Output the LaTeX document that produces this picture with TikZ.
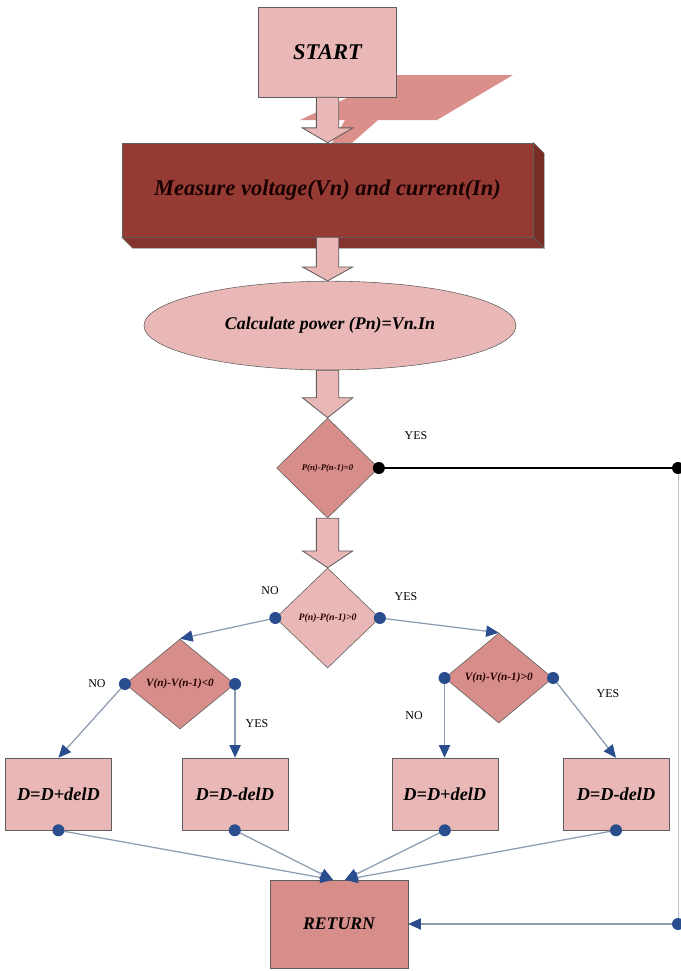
\documentclass[tikz,border=0pt]{standalone}
\usepackage{fontspec}
\setmainfont{Liberation Serif}
\usetikzlibrary{shapes.geometric,arrows.meta,positioning,calc}
\definecolor{lightpink}{HTML}{E9B8B6}
\definecolor{darkpink}{HTML}{D78E8A}
\definecolor{brick}{HTML}{953B33}
\definecolor{brickside}{HTML}{7A2D27}
\definecolor{brickfloor}{HTML}{86332D}
\definecolor{shadowpink}{HTML}{DA8F8B}
\definecolor{portblue}{HTML}{2A4E8D}
\definecolor{wireblue}{HTML}{8C9CB1}
\definecolor{edgegrey}{HTML}{5E5E5E}
\tikzstyle{stepbox} = [draw=edgegrey, fill=lightpink, shape=rectangle, minimum width=2.65cm, minimum height=1.8cm, font=\fontsize{13}{15}\selectfont\bfseries\itshape]
\tikzstyle{decision} = [draw=edgegrey, shape=diamond, inner sep=0pt, text=black!85!red, font=\bfseries\itshape]
\tikzstyle{port} = [circle, fill=portblue, inner sep=0pt, minimum size=0.3cm]
\tikzstyle{blackport} = [circle, fill=black, inner sep=0pt, minimum size=0.3cm]
\tikzstyle{wire} = [wireblue, line width=0.9pt, -{Triangle[length=9pt,width=8pt,color=portblue]}]
\tikzstyle{fatarrow} = [draw=edgegrey, fill=lightpink, line width=0.6pt]
\tikzstyle{answer} = [font=\fontsize{8.5}{10}\selectfont]
% fat arrow: from #1 down to tip #2, head length #3
\newcommand{\blockarrow}[3]{%
  \draw[fatarrow] ($(#1)+(-0.28,0)$) -- ($(#2)+(-0.28,#3)$) -- ($(#2)+(-0.63,#3)$) -- (#2)
    -- ($(#2)+(0.63,#3)$) -- ($(#2)+(0.28,#3)$) -- ($(#1)+(0.28,0)$) -- cycle;}

\begin{document}
\begin{tikzpicture}
            \useasboundingbox (0,0) rectangle (17,-24.275);
            %%%%% Start %%%%%
            \fill[shadowpink] (7.5,-3) -- (10.925,-3) -- (12.825,-1.875) -- (9.9,-1.875) -- cycle;
            \fill[shadowpink] (8.3,-3.575) -- (8.8,-3.575) -- (9.45,-3) -- (8.625,-3) -- cycle;
            \node (start) [draw=edgegrey, fill=lightpink, minimum width=3.45cm, minimum height=2.25cm, font=\fontsize{16}{18}\selectfont\bfseries\itshape] at (8.19,-1.3) {START};
            %%%%% Measure %%%%%
            \node (meas) [minimum width=10.275cm, minimum height=2.35cm] at (8.19,-4.75) {};
            \filldraw[brickfloor, draw=edgegrey, line width=0.4pt] (meas.south west) -- ($(meas.south west)+(0.27,-0.27)$) -- ($(meas.south east)+(0.27,-0.27)$) -- (meas.south east) -- cycle;
            \filldraw[brickside, draw=edgegrey, line width=0.4pt] (meas.north east) -- ($(meas.north east)+(0.27,-0.27)$) -- ($(meas.south east)+(0.27,-0.27)$) -- (meas.south east) -- cycle;
            \node (measface) [draw=edgegrey, fill=brick, minimum width=10.275cm, minimum height=2.35cm, text=black!90!red, font=\fontsize{16}{18}\selectfont\bfseries\itshape] at (meas) {Measure voltage(Vn) and current(In)};
            \blockarrow{start.south}{meas.north}{0.37}
            %%%%% Power %%%%%
            \node (ell) [ellipse, draw=edgegrey, fill=lightpink, minimum width=9.3cm, minimum height=2.22cm, font=\fontsize{12.7}{14}\selectfont\bfseries\itshape] at (8.25,-8.14) {Calculate power (Pn)=Vn.In};
            \blockarrow{meas.south}{ell.north -| meas.south}{0.35}
            %%%%% First decision %%%%%
            \node (dia1) [decision, fill=darkpink, minimum width=2.55cm, minimum height=2.5cm, font=\fontsize{6.2}{7}\selectfont\bfseries\itshape] at (8.19,-11.7) {P(n)-P(n-1)=0};
            \blockarrow{dia1.north |- ell.south}{dia1.north}{0.5}
            \coordinate (rtop) at (16.95,-11.7);
            \coordinate (rbot) at (16.95,-23.1);
            \draw[black, line width=0.8pt] (dia1.east) -- (rtop);
            \draw[wireblue!60, line width=0.5pt] (rtop) -- (rbot);
            \node (dot1) [blackport] at (dia1.east) {};
            \node (dot2) [blackport] at (rtop) {};
            \node (yes1) [answer] at (10.4,-10.9) {YES};
            %%%%% Second decision %%%%%
            \node (dia2) [decision, fill=lightpink, minimum width=2.6cm, minimum height=2.5cm, font=\fontsize{7}{8}\selectfont\bfseries\itshape] at (8.19,-15.45) {P(n)-P(n-1)>0};
            \blockarrow{dia1.south}{dia2.north}{0.42}
            \node (no2) [answer] at (6.75,-14.775) {NO};
            \node (yes2) [answer] at (10.15,-14.925) {YES};
            %%%%% Voltage decisions %%%%%
            \node (dia3) [decision, fill=darkpink, minimum width=2.74cm, minimum height=2.25cm, font=\fontsize{8}{9}\selectfont\bfseries\itshape] at (4.5,-17.1) {V(n)-V(n-1)<0};
            \node (dia4) [decision, fill=darkpink, minimum width=2.7cm, minimum height=2.25cm, font=\fontsize{8}{9}\selectfont\bfseries\itshape] at (12.47,-16.95) {V(n)-V(n-1)>0};
            \node (no3) [answer] at (2.425,-17.1) {NO};
            \node (yes3) [answer] at (6.425,-18.1) {YES};
            \node (no4) [answer] at (10.35,-17.9) {NO};
            \node (yes4) [answer] at (15.2,-17.35) {YES};
            %%%%% Duty updates %%%%%
            \node (b1) [stepbox] at (1.46,-19.85) {D=D+delD};
            \node (b2) [stepbox] at (5.87,-19.85) {D=D-delD};
            \node (b3) [stepbox] at (11.12,-19.85) {D=D+delD};
            \node (b4) [stepbox] at (15.4,-19.85) {D=D-delD};
            %%%%% Return %%%%%
            \node (ret) [draw=edgegrey, fill=darkpink, minimum width=3.45cm, minimum height=2.2cm, font=\fontsize{12.6}{14}\selectfont\bfseries\itshape] at (8.475,-23.1) {RETURN};
            \coordinate (retL) at ($(ret.north)+(-0.15,0)$);
            \coordinate (retR) at ($(ret.north)+(0.15,0)$);
            %%%%% Edges %%%%%
            \draw[wire] (dia2.west) -- (dia3.north);
            \draw[wire] (dia2.east) -- (dia4.north);
            \draw[wire] (dia3.west) -- (b1.north);
            \draw[wire] (dia3.east) -- (dia3.east |- b2.north);
            \draw[wire] (dia4.west) -- (dia4.west |- b3.north);
            \draw[wire] (dia4.east) -- (b4.north);
            \draw[wire] (b1.south) -- (retL);
            \draw[wire] (b2.south) -- (retL);
            \draw[wire] (b3.south) -- (retR);
            \draw[wire] (b4.south) -- (retR);
            \draw[wire] (rbot) -- (ret.east);
            \foreach \n/\a in {p1/dia2.west, p2/dia2.east, p3/dia3.west, p4/dia3.east, p5/dia4.west, p6/dia4.east, p7/b1.south, p8/b2.south, p9/b3.south, p10/b4.south, p11/rbot}
                \node (\n) [port] at (\a) {};
\end{tikzpicture}
\end{document}
